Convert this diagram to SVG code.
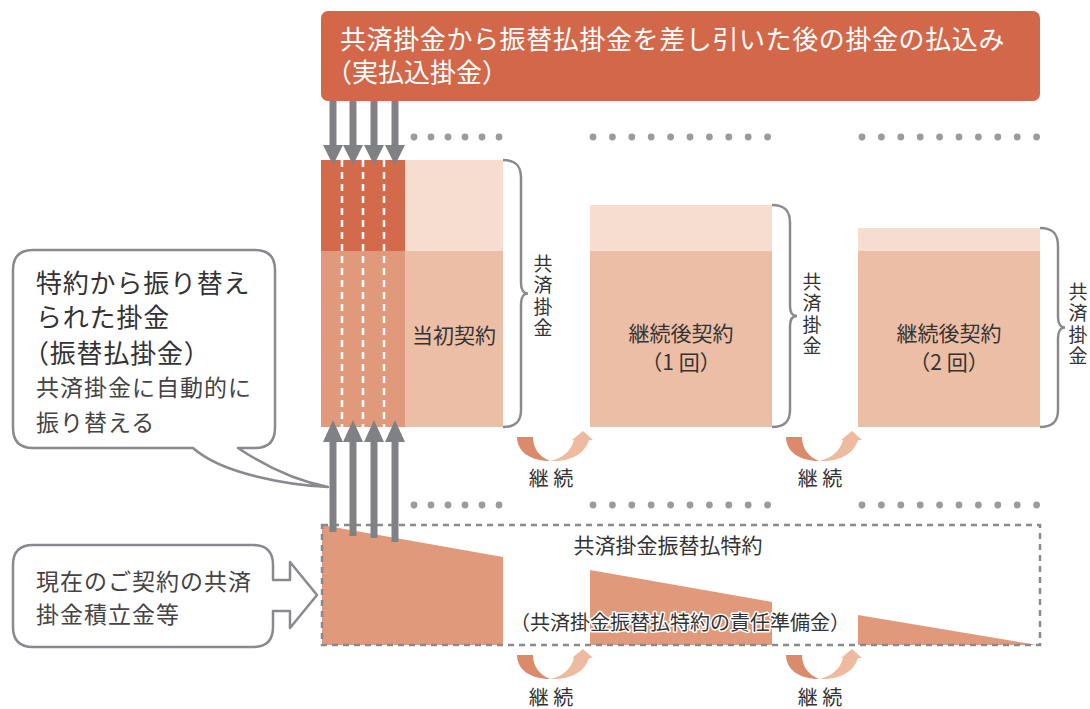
<svg xmlns="http://www.w3.org/2000/svg" xmlns:xlink="http://www.w3.org/1999/xlink" width="1090" height="709" viewBox="0 0 1090 709">
<style>
text{font-family:"Noto Sans CJK JP","Noto Sans CJK SC",sans-serif;fill:#333}
.ban{fill:#fff;font-size:26px}
.lbl{font-size:21px}
.vt{font-size:19px;writing-mode:vertical-rl;letter-spacing:2.5px}
.kz{font-size:20px;text-anchor:middle}
.cl{font-size:26px;letter-spacing:0.8px}
.cs{font-size:23px;fill:#444;letter-spacing:1px}
.arw{fill:#808184}
.dot{fill:#9b9b9f}
.br{fill:none;stroke:#8a8a8e;stroke-width:2.5}
.wd{stroke:#fff;stroke-width:2.5;stroke-dasharray:7 5}
.bub{fill:#fff;stroke:#8a8a8e;stroke-width:2.5;stroke-linejoin:round}
.halo{paint-order:stroke;stroke:#fff;stroke-width:3px;stroke-linejoin:round}
</style>
<defs>
<g id="dots6"><circle cx="0" cy="0" r="3.4"/><circle cx="17" cy="0" r="3.4"/><circle cx="34" cy="0" r="3.4"/><circle cx="51" cy="0" r="3.4"/><circle cx="68" cy="0" r="3.4"/><circle cx="85" cy="0" r="3.4"/></g>
<g id="dots10"><circle cx="0" cy="0" r="3.4"/><circle cx="19.4" cy="0" r="3.4"/><circle cx="38.8" cy="0" r="3.4"/><circle cx="58.2" cy="0" r="3.4"/><circle cx="77.6" cy="0" r="3.4"/><circle cx="97" cy="0" r="3.4"/><circle cx="116.4" cy="0" r="3.4"/><circle cx="135.8" cy="0" r="3.4"/><circle cx="155.2" cy="0" r="3.4"/><circle cx="174.6" cy="0" r="3.4"/></g>
<g id="cres">
<path d="M0,6 C0,21 14,30 33,30 C23,26 16,18 16,6 Z" fill="#DC8A6C"/>
<path d="M33,30 C46,27 54,20 57,9 L55,9 L66,0 L76,9 L72,9 C68,23 53,31 33,30 Z" fill="#EEBBA1"/>
</g>
<g id="darr"><rect x="-3.5" y="0" width="7" height="46"/><polygon points="-10,44 10,44 0,64"/></g>
</defs>

<g id="banner">
<rect x="321" y="11" width="719" height="90" rx="7" fill="#D26849"/>
<text class="ban" x="340" y="49" letter-spacing="0.6">共済掛金から振替払掛金を差し引いた後の掛金の払込み</text>
<text class="ban" x="326" y="82">（実払込掛金）</text>
</g>

<g id="dots" class="dot">
<use xlink:href="#dots6" x="414" y="137"/>
<use xlink:href="#dots10" x="593" y="137"/>
<use xlink:href="#dots10" x="862" y="137"/>
<use xlink:href="#dots6" x="414" y="505"/>
<use xlink:href="#dots10" x="593" y="505"/>
<use xlink:href="#dots10" x="862" y="505"/>
</g>

<g id="contract-initial">
<rect x="321" y="160" width="84" height="91" fill="#D36A4B"/>
<rect x="321" y="251" width="84" height="176" fill="#E09A7B"/>
<rect x="405" y="160" width="98" height="91" fill="#F6DDD0"/>
<rect x="405" y="251" width="98" height="176" fill="#ECBEA6"/>
<line class="wd" x1="342" y1="160" x2="342" y2="427"/>
<line class="wd" x1="363" y1="160" x2="363" y2="427"/>
<line class="wd" x1="384" y1="160" x2="384" y2="427"/>
<text class="lbl" x="454" y="343" text-anchor="middle">当初契約</text>
</g>

<g id="contract-renew1">
<rect x="590" y="205" width="182" height="46" fill="#F6DDD0"/>
<rect x="590" y="251" width="182" height="176" fill="#ECBEA6"/>
<text class="lbl" x="681" y="341" text-anchor="middle">継続後契約</text>
<text class="lbl" x="681" y="370" text-anchor="middle">（1 回）</text>
</g>

<g id="contract-renew2">
<rect x="858" y="228" width="182" height="23" fill="#F6DDD0"/>
<rect x="858" y="251" width="182" height="176" fill="#ECBEA6"/>
<text class="lbl" x="949" y="341" text-anchor="middle">継続後契約</text>
<text class="lbl" x="949" y="370" text-anchor="middle">（2 回）</text>
</g>

<g id="brace1">
<path class="br" d="M503,160 C516,160 521,166 521,178 L521,283 C521,290 524,293.5 528,293.5 C524,293.5 521,297 521,304 L521,410 C521,421 516,427 503,427"/>
<text class="vt" x="543" y="254">共済掛金</text>
</g>
<g id="brace2">
<path class="br" d="M772,205 C785,205 790,211 790,223 L790,306 C790,313 793,316 797,316 C793,316 790,319 790,326 L790,410 C790,421 785,427 772,427"/>
<text class="vt" x="812" y="272">共済掛金</text>
</g>
<g id="brace3">
<path class="br" d="M1040,228 C1053,228 1058,234 1058,246 L1058,317 C1058,324 1061,327.5 1065,327.5 C1061,327.5 1058,331 1058,338 L1058,410 C1058,421 1053,427 1040,427"/>
<text class="vt" x="1078" y="282">共済掛金</text>
</g>

<g id="rider">
<polygon points="322,525 503,557 503,645 322,645" fill="#E09A7B"/>
<polygon points="590,570 772,602 772,645 590,645" fill="#E09A7B"/>
<polygon points="858,615 1037,645 858,645" fill="#E09A7B"/>
<rect x="322" y="525" width="718" height="120" fill="none" stroke="#8a8a8e" stroke-width="2.5" stroke-dasharray="6 5"/>
<text x="668" y="553" font-size="21" text-anchor="middle">共済掛金振替払特約</text>
<text class="halo" x="680" y="630" font-size="20" text-anchor="middle">（共済掛金振替払特約の責任準備金）</text>
</g>

<g id="callout-transfer">
<path class="bub" d="M33,250 H255 Q275,250 275,270 V428 Q275,448 255,448 H238 C262,464 292,480 328,487 C288,485 222,474 193,448 H33 Q13,448 13,428 V270 Q13,250 33,250 Z"/>
<text class="cl" x="36" y="293">特約から振り替え</text>
<text class="cl" x="36" y="327">られた掛金</text>
<text class="cl" x="23" y="363">（振替払掛金）</text>
<text class="cs" x="36" y="396">共済掛金に自動的に</text>
<text class="cs" x="36" y="431">振り替える</text>
</g>

<g id="callout-reserve">
<path class="bub" d="M33,545 H253 Q273,545 273,565 V580 H290 V562 L317,595 L290,628 V611 H273 V627 Q273,647 253,647 H33 Q13,647 13,627 V565 Q13,545 33,545 Z"/>
<text class="cs" x="36" y="590">現在のご契約の共済</text>
<text class="cs" x="36" y="623">掛金積立金等</text>
</g>

<g id="connectors">
<g class="arw">
<use xlink:href="#darr" x="333" y="101"/>
<use xlink:href="#darr" x="353" y="101"/>
<use xlink:href="#darr" x="374" y="101"/>
<use xlink:href="#darr" x="395" y="101"/>
<rect x="329.5" y="440" width="7" height="92"/><polygon points="323,442 343,442 333,420"/>
<rect x="349.5" y="440" width="7" height="96"/><polygon points="343,442 363,442 353,420"/>
<rect x="370.5" y="440" width="7" height="98"/><polygon points="364,442 384,442 374,420"/>
<rect x="391.5" y="440" width="7" height="102"/><polygon points="385,442 405,442 395,420"/>
</g>
<use xlink:href="#cres" x="517" y="431"/>
<use xlink:href="#cres" x="786" y="431"/>
<use xlink:href="#cres" x="517" y="649"/>
<use xlink:href="#cres" x="786" y="649"/>
<text class="kz" x="551" y="486">継 続</text>
<text class="kz" x="820" y="486">継 続</text>
<text class="kz" x="551" y="705">継 続</text>
<text class="kz" x="820" y="705">継 続</text>
</g>
</svg>
